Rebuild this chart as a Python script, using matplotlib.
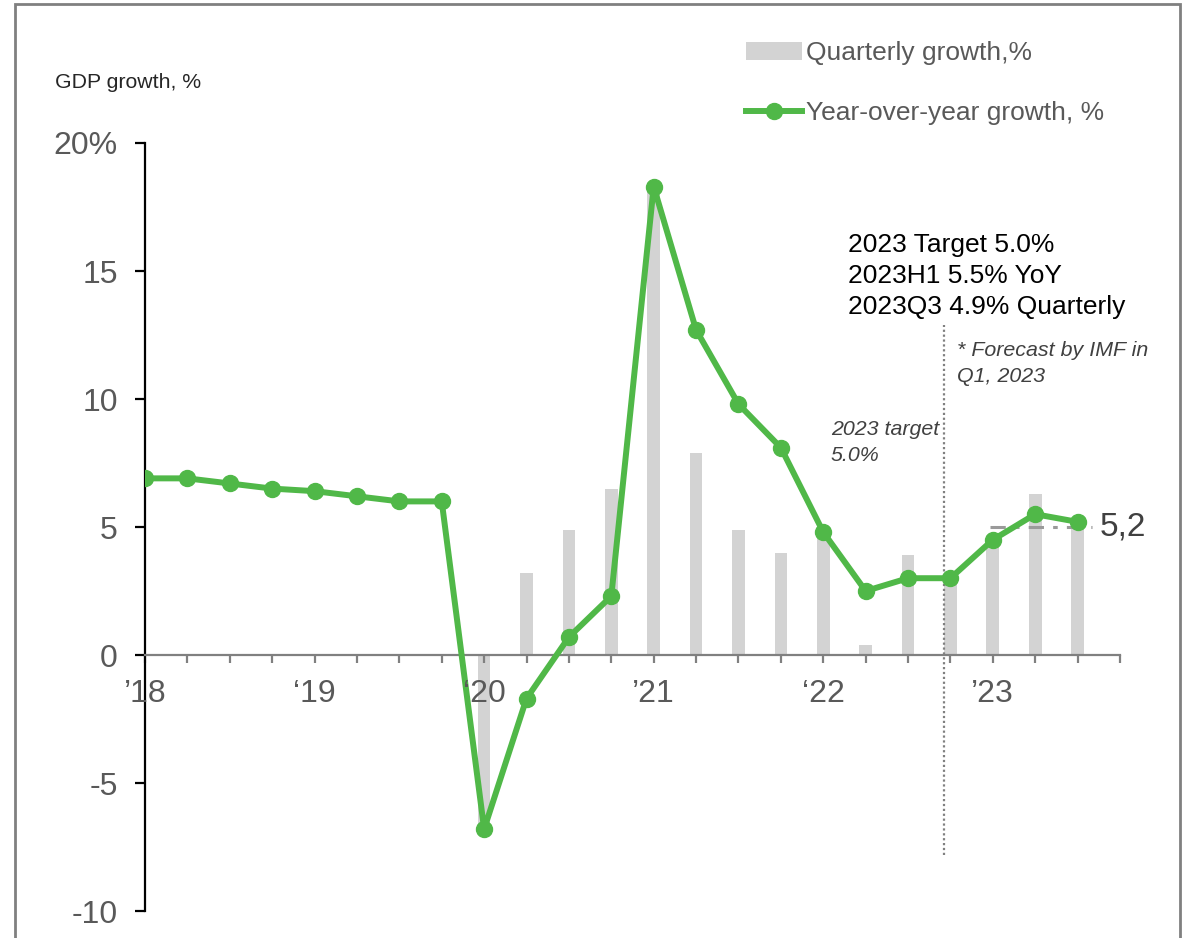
import numpy as np
import matplotlib
matplotlib.use("Agg")
import matplotlib.pyplot as plt
from matplotlib.lines import Line2D
from matplotlib.patches import Patch, Rectangle

plt.rcParams['font.family'] = ['Liberation Sans', 'DejaVu Sans']

# ---- data ----
quarters = list(range(23))  # 2018Q1 .. 2023Q3
yoy_growth = [6.9, 6.9, 6.7, 6.5, 6.4, 6.2, 6.0, 6.0,
              -6.8, -1.7, 0.7, 2.3, 18.3, 12.7, 9.8, 8.1,
              4.8, 2.5, 3.0, 3.0, 4.5, 5.5, 5.2]
quarterly_growth = [np.nan] * 8 + [-6.8, 3.2, 4.9, 6.5, 18.3, 7.9, 4.9, 4.0,
                                   4.8, 0.4, 3.9, 3.0, 4.5, 6.3, 5.2]
year_ticks = [0, 4, 8, 12, 16, 20]
year_labels = ["\u201918", "\u201819", "\u201820", "\u201921", "\u201822", "\u201923"]
y_ticks = [-10, -5, 0, 5, 10, 15, 20]
y_labels = ["-10", "-5", "0", "5", "10", "15", "20%"]
imf_forecast = 5.0
imf_label = "5,2"
forecast_split = 18.85

W, H = 1184, 938
fig = plt.figure(figsize=(W / 100, H / 100), dpi=100)
ax = fig.add_axes([145 / W, 1 - 911 / H, (1120 - 145) / W, (911 - 143) / H])

green = '#50B848'
grey_txt = '#595959'

ax.bar(quarters, quarterly_growth, width=0.3, color='#D3D3D3', zorder=1,
       label='Quarterly growth,%')
ax.plot(quarters, yoy_growth, color=green, lw=4.3, marker='o', ms=11.5,
        zorder=3, label='Year-over-year growth, %')

ax.set_xlim(0, 23)
ax.set_ylim(-10, 20)

# spines
for s in ['top', 'right']:
    ax.spines[s].set_visible(False)
ax.spines['left'].set_color('black')
ax.spines['left'].set_linewidth(1.6)
ax.spines['bottom'].set_position(('data', 0))
ax.spines['bottom'].set_color('#808080')
ax.spines['bottom'].set_linewidth(1.6)

ax.set_yticks(y_ticks)
ax.set_yticklabels(y_labels)
ax.tick_params(axis='y', direction='out', length=7.5, width=1.6, color='black',
               labelsize=23, labelcolor=grey_txt, pad=12)

ax.set_xticks(range(24))
ax.set_xticklabels(['' for _ in range(24)])
ax.tick_params(axis='x', direction='out', length=6, width=1.6, color='#808080')
for xt, lab in zip(year_ticks, year_labels):
    ax.annotate(lab, xy=(xt, 0), xycoords='data', xytext=(0, -28),
                textcoords='offset points', ha='center', va='center',
                fontsize=23, color=grey_txt)

# vertical dotted divider
ax.plot([forecast_split, forecast_split], [-7.8, 12.9], ls=(0, (1, 1.2)),
        color='#808080', lw=1.6, zorder=2)

# IMF forecast dashed line
ax.plot([19.93, 22.35], [imf_forecast, imf_forecast], color='#9a9a9a', lw=2.2,
        ls=(0, (5, 3, 1.5, 3)), zorder=2)
ax.text(22.53, imf_forecast, imf_label, fontsize=24, color='#404040',
        va='center', ha='left')

# texts
fig.text(55 / W, 1 - 82 / H, 'GDP growth, %', fontsize=15.3, color='#262626',
         va='center', ha='left')
fig.text(848 / W, 1 - 233 / H,
         '2023 Target 5.0%\n2023H1 5.5% YoY\n2023Q3 4.9% Quarterly',
         fontsize=19, color='black', va='top', ha='left', linespacing=1.36)
fig.text(957 / W, 1 - 341 / H, '* Forecast by IMF in\nQ1, 2023', fontsize=15.4,
         style='italic', color='#404040', va='top', ha='left', linespacing=1.45)
fig.text(831 / W, 1 - 420 / H, '2023 target\n5.0%', fontsize=15.4,
         style='italic', color='#404040', va='top', ha='left', linespacing=1.45)

# legend
handles = [Patch(facecolor='#D3D3D3', edgecolor='none'),
           Line2D([0], [0], color=green, lw=4.3, marker='o', ms=11.5)]
leg = fig.legend(handles, ['Quarterly growth,%', 'Year-over-year growth, %'],
                 loc='upper left', bbox_to_anchor=(728 / W, 1 - 23 / H),
                 frameon=False, fontsize=19, labelspacing=1.35,
                 handlelength=2.1, handletextpad=0.15, borderpad=0.2)
for t in leg.get_texts():
    t.set_color(grey_txt)

# outer frame
fig.patches.append(Rectangle((15 / W, -0.05), (1180 - 15) / W, 1.05 - 4 / H,
                             transform=fig.transFigure, fill=False,
                             edgecolor='#808080', lw=2, zorder=0))

fig.savefig('out.png', dpi=100)
